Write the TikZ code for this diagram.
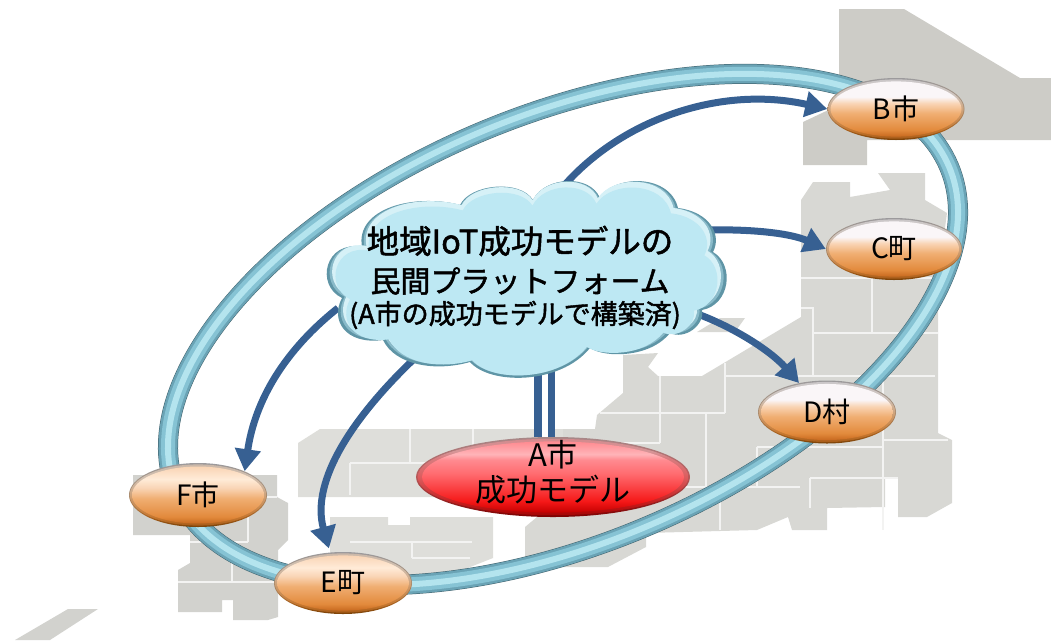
\documentclass[tikz,border=0pt]{standalone}
\usepackage{fontspec}
\setmainfont{Noto Sans CJK JP}
\newfontfamily\cjkbold[FakeBold=1.6]{Noto Sans CJK JP}
\usetikzlibrary{arrows.meta,shapes.geometric,calc}
\definecolor{mapA}{HTML}{CDCCC7}
\definecolor{mapB}{HTML}{D8D8D4}
\definecolor{mapC}{HTML}{DEDEDA}
\definecolor{mapD}{HTML}{D2D2CE}
\definecolor{arrowblue}{HTML}{376092}
\definecolor{cloudrim}{HTML}{5F95A6}
\definecolor{cloudin}{HTML}{BDE8F3}
\definecolor{cloudhi}{HTML}{D6F1F7}
\definecolor{ringdark}{HTML}{6AA3B5}
\definecolor{ringmid}{HTML}{86C3D4}
\definecolor{ringhi}{HTML}{B4E4EE}
\definecolor{rima}{HTML}{7A4208}
\definecolor{rimb}{HTML}{A8611E}
\definecolor{rimc}{HTML}{A98B6E}
\definecolor{rimd}{HTML}{9C9A9C}
\pgfdeclareverticalshading{orrim}{100bp}{color(0bp)=(rima);color(25bp)=(rima);color(33bp)=(rimb);color(50bp)=(rimc);color(75bp)=(rimd);color(100bp)=(rimd)}
\definecolor{oa}{HTML}{C8691F}
\definecolor{ob}{HTML}{E28A3C}
\definecolor{oc}{HTML}{F0AE72}
\definecolor{od}{HTML}{F9D4B4}
\definecolor{oe}{HTML}{FAF6F8}
\definecolor{of}{HTML}{FFEBD8}
\pgfdeclareverticalshading{orinA}{100bp}{color(0bp)=(oa);color(25bp)=(oa);color(31bp)=(ob);color(46bp)=(oc);color(55bp)=(od);color(61bp)=(oe);color(75bp)=(oe);color(100bp)=(oe)}
\pgfdeclareverticalshading{orinB}{100bp}{color(0bp)=(oa);color(25bp)=(oa);color(31bp)=(ob);color(47bp)=(oc);color(56bp)=(od);color(64bp)=(of);color(75bp)=(od);color(100bp)=(od)}
\definecolor{ra}{HTML}{7E0000}
\definecolor{rb}{HTML}{B85858}
\definecolor{rc}{HTML}{A88888}
\pgfdeclareverticalshading{redrim}{100bp}{color(0bp)=(ra);color(25bp)=(ra);color(50bp)=(rb);color(75bp)=(rc);color(100bp)=(rc)}
\definecolor{rd}{HTML}{C40000}
\definecolor{re}{HTML}{F51818}
\definecolor{rf}{HTML}{FF6A6E}
\definecolor{rg}{HTML}{FFB4B8}
\definecolor{rh}{HTML}{FF8A90}
\pgfdeclareverticalshading{redin}{100bp}{color(0bp)=(rd);color(25bp)=(rd);color(33bp)=(re);color(52bp)=(rf);color(62bp)=(rh);color(66bp)=(rg);color(75bp)=(rh);color(100bp)=(rh)}
\tikzset{
  ball/.style n args={4}{ellipse,inner sep=0pt,minimum width=#1pt,minimum height=#2pt,shading=#3,
    font=\fontsize{28}{30}\selectfont,
    path picture={
      \shade[shading=#4,opacity=.5] (path picture bounding box.center) ellipse [x radius=#1*0.494,y radius=#2*0.478];
      \shade[shading=#4] (path picture bounding box.center) ellipse [x radius=#1*0.478,y radius=#2*0.445];}},
  orangeA/.style 2 args={ball={#1}{#2}{orrim}{orinA}},
  orangeB/.style 2 args={ball={#1}{#2}{orrim}{orinB}},
  link/.style={draw=arrowblue,line width=7pt},
  linkarrow/.style={link,-{Triangle[length=22pt,width=25pt]}},
  mapland/.style={fill=#1},
  mapline/.style={draw=white!70!mapB,line width=1.1pt},
  cloudtext/.style={inner sep=0pt,font=\cjkbold\fontsize{#1}{#1}\selectfont},
}
\newcommand{\cloudshape}{(362,247) .. controls (355,208) and (415,193) .. (460,205)
 .. controls (470,184) and (520,179) .. (533,200)
 .. controls (545,176) and (590,174) .. (600,198)
 .. controls (615,174) and (670,174) .. (678,208)
 .. controls (710,212) and (722,235) .. (713,252)
 .. controls (735,265) and (730,305) .. (702,310)
 .. controls (705,325) and (685,340) .. (670,333)
 .. controls (650,358) and (605,358) .. (590,348)
 .. controls (560,385) and (490,385) .. (470,362)
 .. controls (435,372) and (395,365) .. (383,340)
 .. controls (345,345) and (330,320) .. (342,298)
 .. controls (315,285) and (325,240) .. (362,247) -- cycle}
\newcommand{\ringpath}[2]{(563,329.5) ellipse [x radius=#1,y radius=#2]}
\begin{document}
\begin{tikzpicture}[x=1pt,y=-1pt]
\useasboundingbox (0,0) rectangle (1051,643);
% ---- map
\fill[mapland=mapA] (839,9) -- (904,9) -- (1020,78) -- (1051,78) -- (1051,140) -- (867,140) -- (867,165) -- (803,165) -- (803,122) -- (839,105) -- cycle;
\fill[mapland=mapB] (813,182) -- (850,182) -- (850,197) -- (890,190) -- (878,173) -- (925,173) -- (925,200) -- (947,213) -- (938,280) -- (938,433) -- (952,440) -- (952,503) -- (927,517) -- (898,517) -- (898,478) -- (885,478) -- (885,507) -- (827,508) -- (827,530) -- (792,530) -- (788,517) -- (757,530) -- (646,533) -- (646,547) -- (608,567) -- (525,567) -- (525,527) -- (537,517) -- (520,497) -- (560,450) -- (563,429) -- (595,429) -- (597,415) -- (623,393) -- (623,355) -- (658,353) -- (648,367) -- (658,376) -- (702,376) -- (801,317) -- (801,200) -- cycle;
\fill[mapland=mapC] (298,443) -- (320,429) -- (563,429) -- (563,497) -- (298,497) -- cycle;
\fill[mapland=mapC] (330,517) -- (388,517) -- (388,525) -- (410,525) -- (410,517) -- (493,517) -- (493,558) -- (450,575) -- (330,575) -- cycle;
\fill[mapland=mapD] (133,475) -- (277,475) -- (277,497) -- (288,503) -- (288,540) -- (278,550) -- (278,617) -- (268,620) -- (233,620) -- (233,600) -- (222,600) -- (222,612) -- (178,612) -- (178,570) -- (190,563) -- (190,535) -- (133,535) -- cycle;
\fill[mapland=mapD] (68,609) -- (98,609) -- (50,640) -- (15,640) -- cycle;
\fill[mapland=mapB] (697,332) -- (735,332) -- (745,318) -- (720,318) -- cycle;
\draw[mapline] (801,278) -- (938,278) (872,278) -- (872,333) (813,333) -- (938,333) (801,308) -- (813,308) -- (813,376)
  (725,376) -- (935,376) (725,363) -- (725,413) (600,413) -- (725,413) (706,413) -- (706,487) (600,443) -- (660,443) (660,376) -- (660,443)
  (883,376) -- (883,530) (883,440) -- (948,440) (757,447) -- (883,447) (757,447) -- (757,487) (680,487) -- (800,487) (720,487) -- (720,530) (810,478) -- (898,478) (810,478) -- (810,508);
\draw[mapline] (410,429) -- (410,463) (350,463) -- (523,463) (350,463) -- (350,495) (473,429) -- (473,495)
  (350,542) -- (472,542) (412,542) -- (412,558) (412,558) -- (470,558);
\draw[mapline] (248,497) -- (248,542) (190,542) -- (248,542) (232,543) -- (232,582) (178,582) -- (278,582) (248,497) -- (277,497);
% ---- ring
\begin{scope}[rotate around={22.85:(563,329.5)}]
\draw[draw=black!40!ringdark,line width=20pt] \ringpath{419}{214};
\draw[draw=ringdark,line width=19pt] \ringpath{419}{214};
\draw[draw=ringmid,line width=14pt] \ringpath{419}{214};
\draw[draw=ringhi,line width=6pt] \ringpath{419}{214};
\end{scope}
% ---- anchors on the cloud
\coordinate (cloudB) at (562,188);
\coordinate (cloudC) at (708,230);
\coordinate (cloudD) at (692,312);
\coordinate (cloudF) at (338,308);
\coordinate (cloudE) at (415,358);
\coordinate (cloudA) at (544.7,365);
% ---- nodes
\node[orangeA={137}{62}] (B) at (896,109) {B市};
\node[orangeA={136}{62}] (C) at (894,249) {C町};
\node[orangeA={138}{63}] (D) at (827,412) {D村};
\node[orangeB={138}{64}] (F) at (198,495) {F市};
\node[orangeB={138}{62}] (E) at (343,583) {E町};
\node[ball={274}{80}{redrim}{redin}] (A) at (553,477) {};
% ---- connectors
\draw[linkarrow] (cloudB) .. controls (620,120) and (720,85) .. (B.west);
\draw[linkarrow] (cloudC) .. controls (750,229) and (790,233) .. (C.west);
\draw[linkarrow] (cloudD) .. controls (730,325) and (770,350) .. (D.134);
\draw[linkarrow] (cloudF) .. controls (285,350) and (255,400) .. (F.27);
\draw[linkarrow,shorten >=4pt] (cloudE) .. controls (355,415) and (310,480) .. (E.113);
\draw[draw=arrowblue,line width=7.5pt,double=white,double distance=6pt] (cloudA) -- (cloudA |- A.north);
% ---- cloud
\fill[cloudrim] \cloudshape;
\begin{scope}[shift={(520,279)},scale=.985,shift={(-520,-280)}]
\fill[cloudrim!55!cloudin] \cloudshape;
\end{scope}
\begin{scope}[shift={(520,278)},scale=.972,shift={(-520,-280)}]
\fill[cloudhi] \cloudshape;
\end{scope}
\begin{scope}[shift={(521,282)},scale=.955,shift={(-521,-280)}]
\fill[cloudin] \cloudshape;
\end{scope}
\node[cloudtext=32.5] (cloud) at (520,241) {地域IoT成功モデルの};
\node[cloudtext=30] (cloudtwo) at (520,281) {民間プラットフォーム};
\node[cloudtext=27] (cloudthree) at (515,315) {(A市の成功モデルで構築済)};
\node[align=center,inner sep=0pt,font=\fontsize{31}{35}\selectfont] (Atext) at (553,472) {A市\\成功モデル};
\end{tikzpicture}
\end{document}
